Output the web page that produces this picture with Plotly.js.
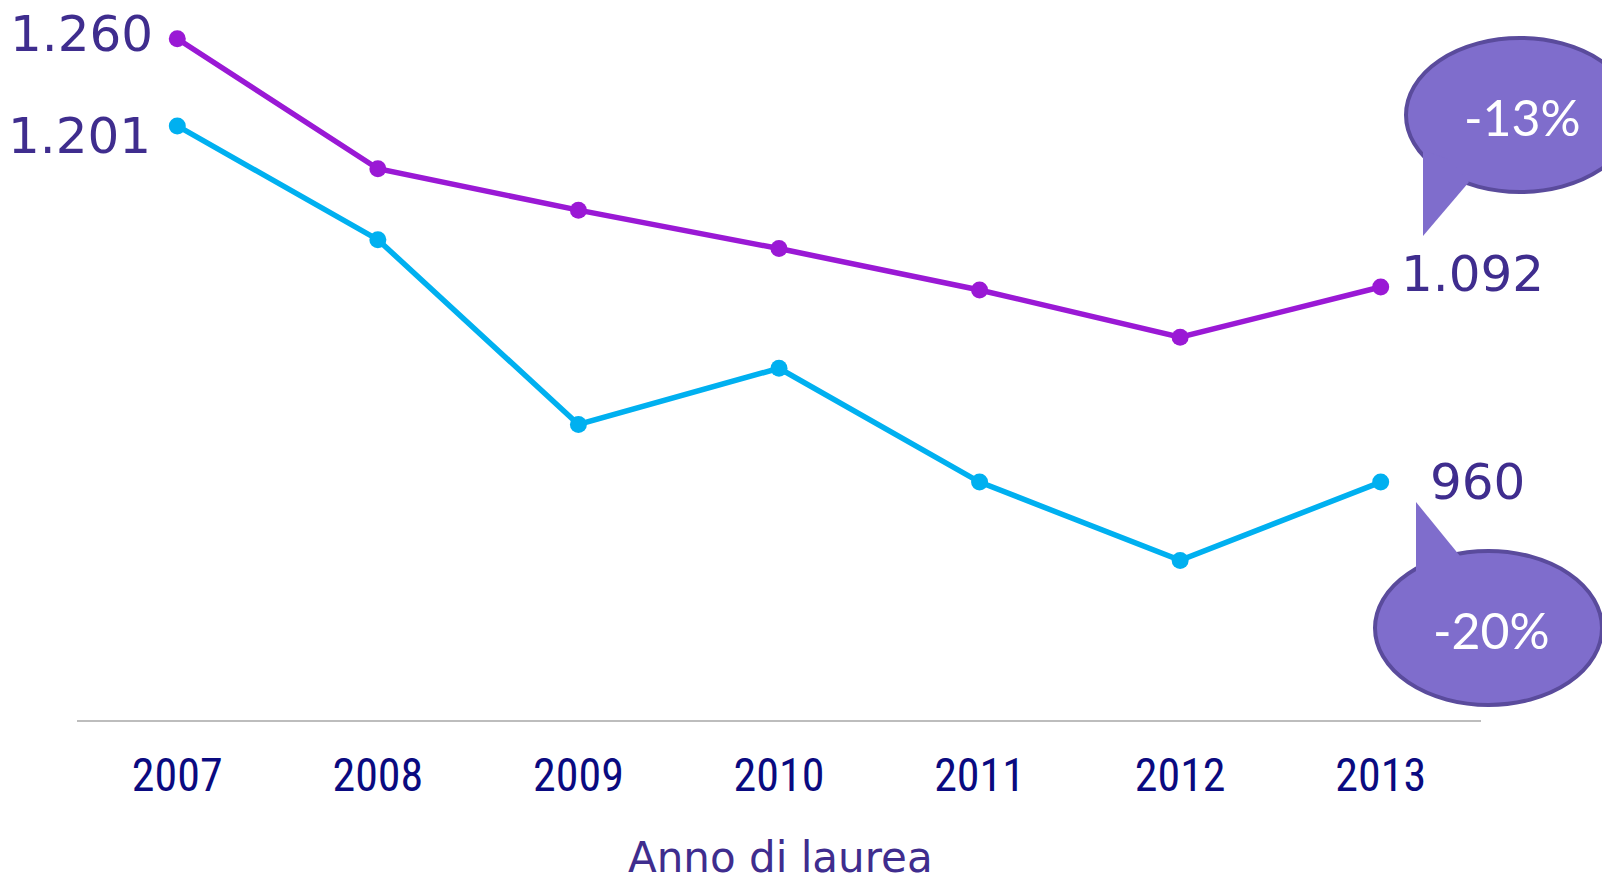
<!DOCTYPE html>
<html>
<head>
<meta charset="utf-8">
<script src="https://cdn.plot.ly/plotly-3.0.1.min.js"></script>
<style>
html,body{margin:0;padding:0;background:#fff;}
#chart{width:1602px;height:884px;}
</style>
</head>
<body>
<div id="chart"></div>
<script>
const years = ['2007','2008','2009','2010','2011','2012','2013'];
const seriesPurple = [1260, 1172, 1144, 1118, 1090, 1058, 1092];
const seriesCyan = [1201, 1124, 999, 1037, 960, 907, 960];
const changeLabels = ['-13%', '-20%'];
const xTitle = 'Anno di laurea';

const W = 1602, H = 884;
const mL = 77, mR = 121, mT = 0, mB = 164;
const pw = W - mL - mR, ph = H - mT - mB;
const px = x => (x - mL) / pw;
const py = y => 1 - (y - mT) / ph;

const fmt = v => {
  const s = String(v);
  return s.length > 3 ? s.slice(0, s.length - 3) + '.' + s.slice(-3) : s;
};

const purple = '#9a19d5';
const cyan = '#00b0f0';
const labelColor = '#3f2d8e';
const bubbleFill = '#7f6dcc';
const bubbleLine = '#5a4b9c';

const traces = [
  {x: years, y: seriesPurple, type: 'scatter', mode: 'lines+markers',
   line: {color: purple, width: 5.5}, marker: {color: purple, size: 17},
   hoverinfo: 'skip', cliponaxis: false},
  {x: years, y: seriesCyan, type: 'scatter', mode: 'lines+markers',
   line: {color: cyan, width: 5.5}, marker: {color: cyan, size: 17},
   hoverinfo: 'skip', cliponaxis: false}
];

const last = years.length - 1;
const valFont = {family: 'DejaVu Sans', size: 50, color: labelColor};
const annotations = [
  {x: 0, y: seriesPurple[0], xref: 'x', yref: 'y', text: fmt(seriesPurple[0]),
   showarrow: false, xanchor: 'right', yanchor: 'middle', xshift: -22, yshift: 5, font: valFont},
  {x: 0, y: seriesCyan[0], xref: 'x', yref: 'y', text: fmt(seriesCyan[0]),
   showarrow: false, xanchor: 'right', yanchor: 'middle', xshift: -24, yshift: -10, font: valFont},
  {x: last, y: seriesPurple[last], xref: 'x', yref: 'y', text: fmt(seriesPurple[last]),
   showarrow: false, xanchor: 'left', yanchor: 'middle', xshift: 18, yshift: 13, font: valFont},
  {x: last, y: seriesCyan[last], xref: 'x', yref: 'y', text: fmt(seriesCyan[last]),
   showarrow: false, xanchor: 'left', yanchor: 'middle', xshift: 47, yshift: 0, font: valFont},
  {x: px(1522), y: py(117), xref: 'paper', yref: 'paper', text: changeLabels[0],
   showarrow: false, xanchor: 'center', yanchor: 'middle',
   font: {family: 'Lato', size: 50, color: '#ffffff'}},
  {x: px(1492), y: py(630), xref: 'paper', yref: 'paper', text: changeLabels[1],
   showarrow: false, xanchor: 'center', yanchor: 'middle',
   font: {family: 'Lato', size: 50, color: '#ffffff'}},
  {x: px(780), y: py(857), xref: 'paper', yref: 'paper', text: xTitle,
   showarrow: false, xanchor: 'center', yanchor: 'middle',
   font: {family: 'DejaVu Sans', size: 42, color: labelColor}}
];

const poly = pts => 'M ' + pts.map(p => px(p[0]) + ',' + py(p[1])).join(' L ') + ' Z';

const shapes = [
  {type: 'circle', xref: 'paper', yref: 'paper', x0: px(1406), x1: px(1634), y0: py(38), y1: py(192),
   fillcolor: bubbleFill, line: {color: bubbleLine, width: 4}, layer: 'above'},
  {type: 'path', xref: 'paper', yref: 'paper', path: poly([[1423,150],[1423,236],[1469,182],[1450,160]]),
   fillcolor: bubbleFill, line: {width: 0}, layer: 'above'},
  {type: 'circle', xref: 'paper', yref: 'paper', x0: px(1375), x1: px(1602), y0: py(551), y1: py(705),
   fillcolor: bubbleFill, line: {color: bubbleLine, width: 4}, layer: 'above'},
  {type: 'path', xref: 'paper', yref: 'paper', path: poly([[1416,502],[1416,575],[1440,575],[1460,556]]),
   fillcolor: bubbleFill, line: {width: 0}, layer: 'above'}
];

const layout = {
  width: W, height: H,
  margin: {l: mL, r: mR, t: mT, b: mB, pad: 0},
  paper_bgcolor: '#ffffff', plot_bgcolor: '#ffffff',
  showlegend: false,
  xaxis: {
    type: 'category', range: [-0.5, 6.5], showgrid: false, zeroline: false,
    showline: true, linecolor: '#bdbdbd', linewidth: 2, ticks: '',
    tickfont: {family: 'Liberation Sans Narrow, Arial Narrow, Roboto Condensed, Roboto, sans-serif', size: 46, color: '#0a0a80'},
    ticklabelstandoff: 14, fixedrange: true
  },
  yaxis: {
    range: [799, 1286.2], showgrid: false, zeroline: false, showline: false,
    showticklabels: false, ticks: '', fixedrange: true
  },
  annotations: annotations,
  shapes: shapes
};

Plotly.newPlot('chart', traces, layout, {displayModeBar: false, staticPlot: true});
</script>
</body>
</html>
